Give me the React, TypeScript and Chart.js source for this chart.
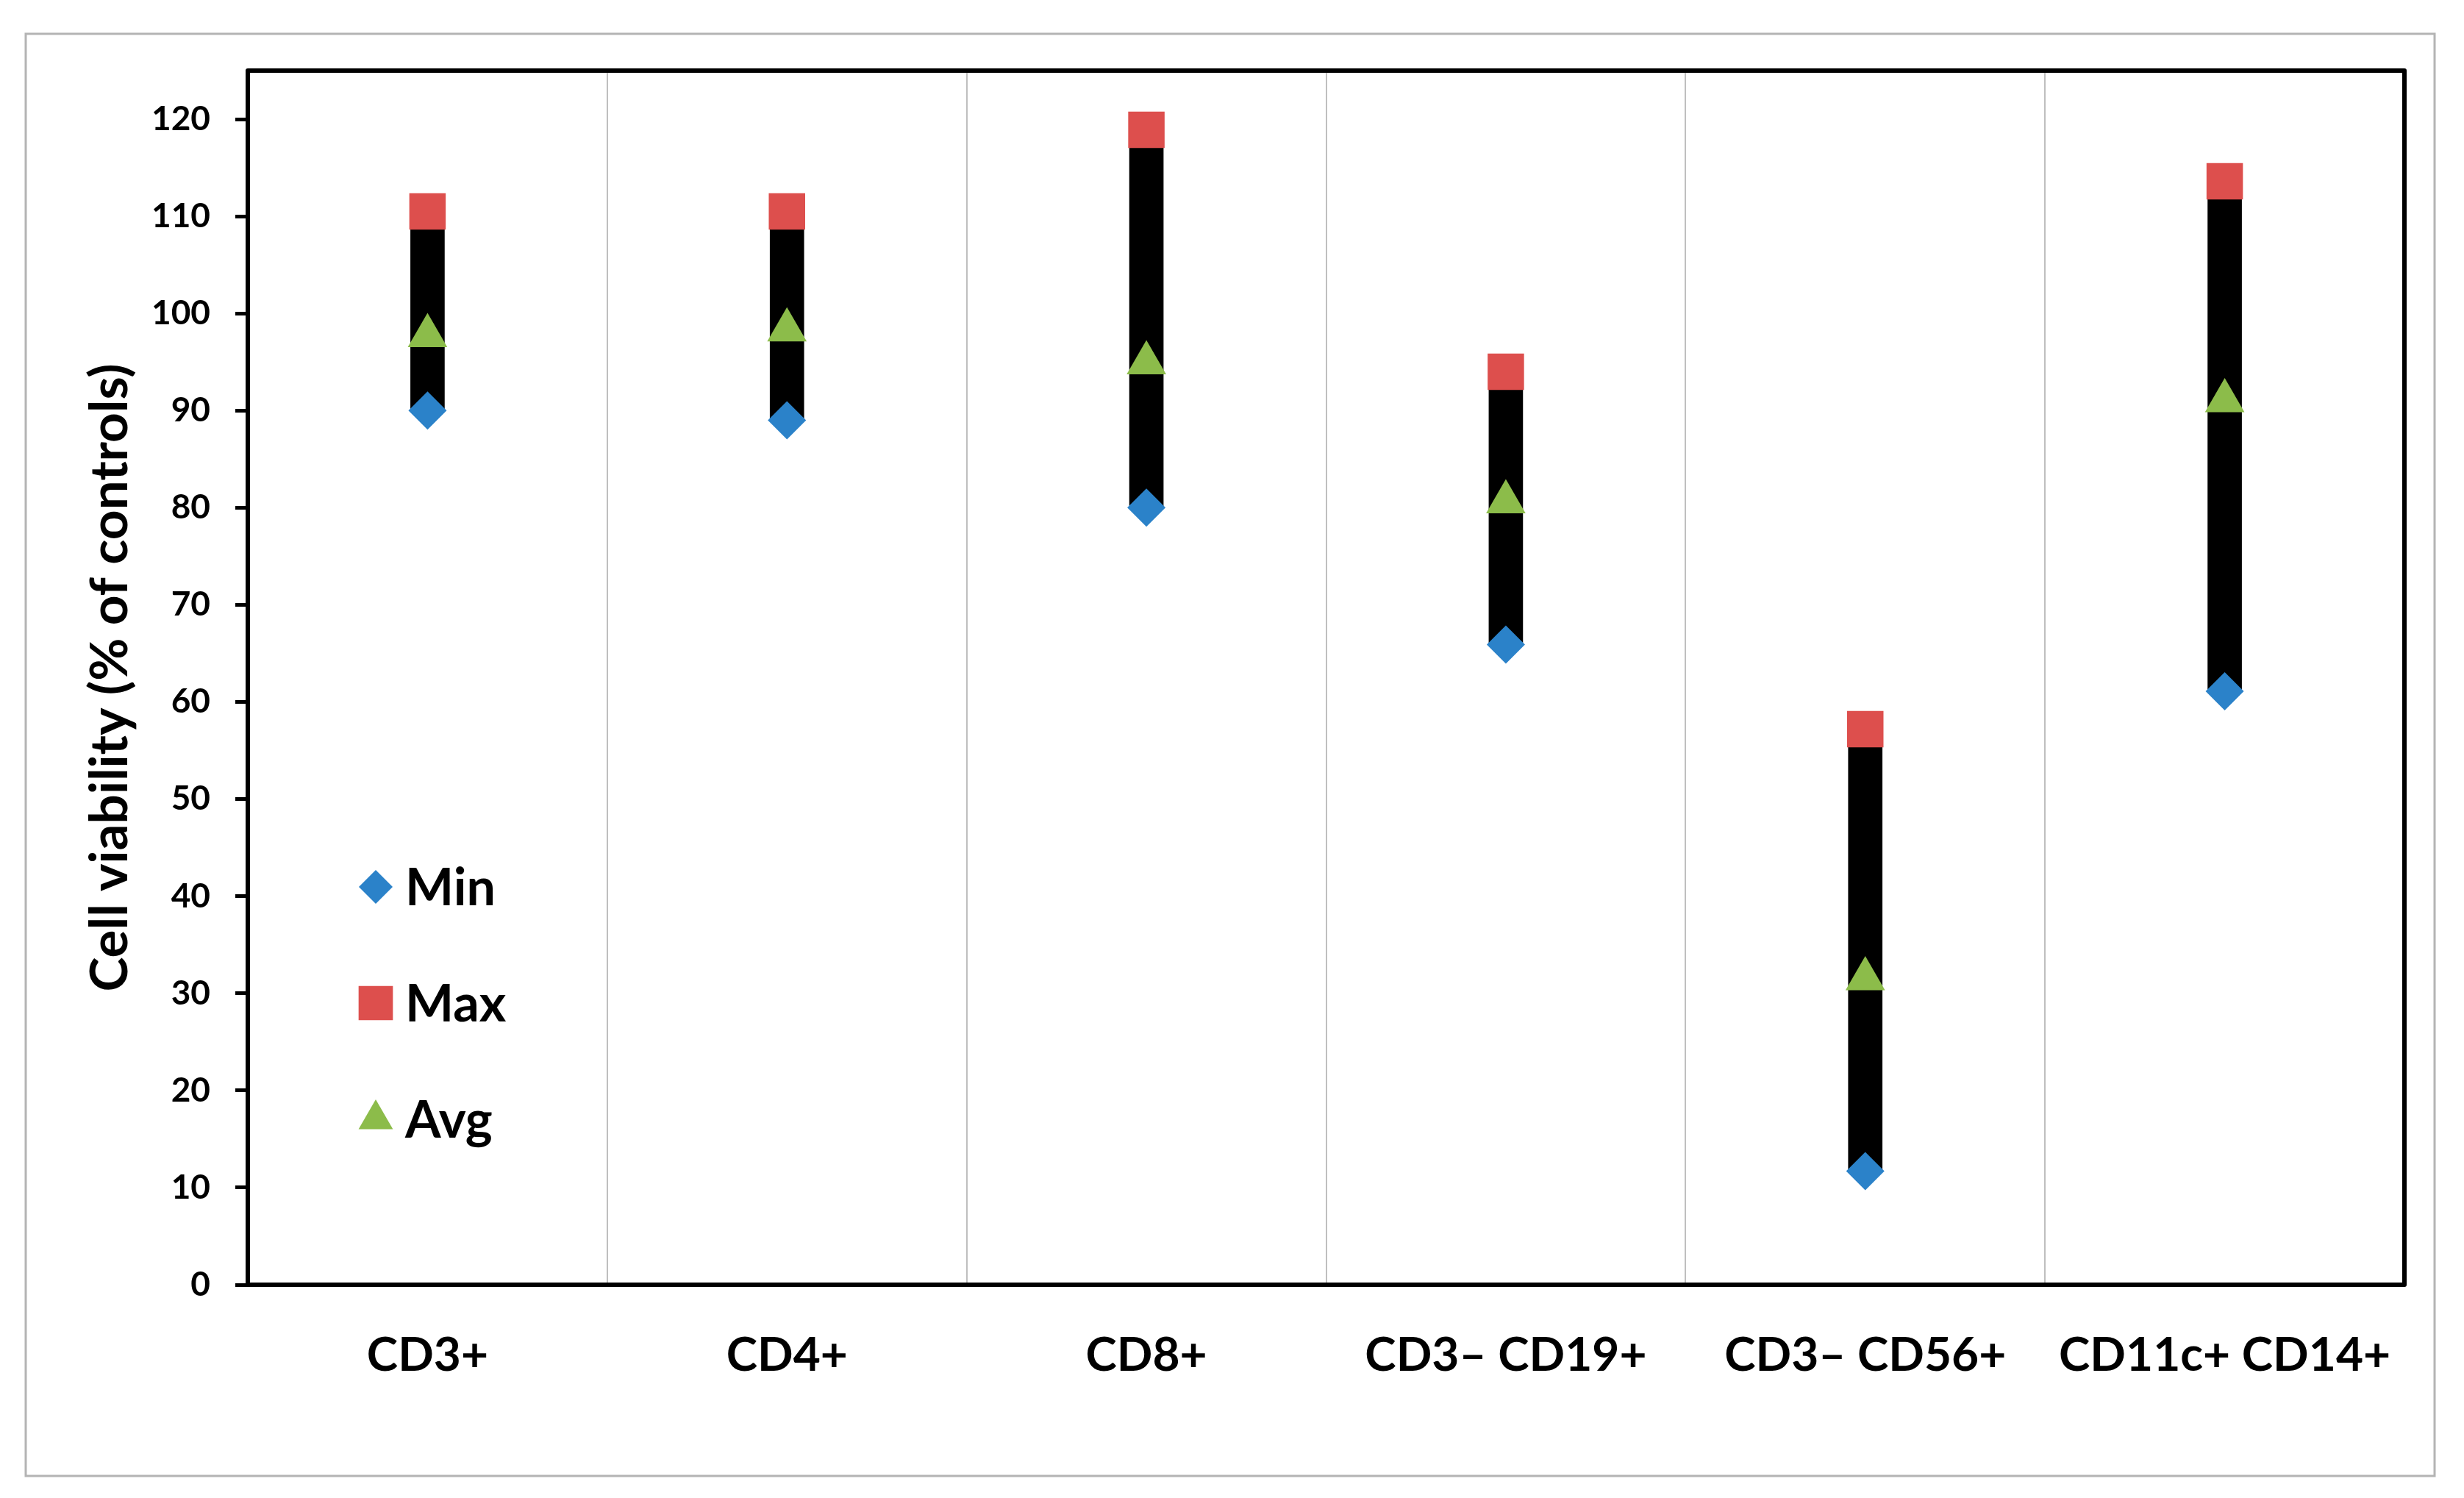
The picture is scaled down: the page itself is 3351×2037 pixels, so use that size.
import React, { useEffect, useRef } from 'react';
import { Chart, registerables } from 'chart.js';
import { drawPoint } from 'chart.js/helpers';

Chart.register(...registerables);

const categories = ['CD3+', 'CD4+', 'CD8+', 'CD3\u2013 CD19+', 'CD3\u2013 CD56+', 'CD11c+ CD14+'];
const minValues = [90, 89, 80, 65.9, 11.7, 61.1];
const maxValues = [110.5, 110.5, 118.9, 94, 57.2, 113.6];
const avgValues = [97.7, 98.3, 94.9, 80.6, 31.5, 91];
const seriesNames = ['Min', 'Max', 'Avg'];
const yAxisTitle = 'Cell viability (% of controls)';

const BLUE = '#2b82c9';
const RED = '#dd4f4d';
const GREEN = '#8cbc4a';
const FONT = 'Lato';

const legendSizes: Record<string, number> = { rectRot: 23, rect: 33, triangle: 27 };

const frameAndLegend = {
  id: 'frameAndLegend',
  beforeDraw(chart: any) {
    const { ctx, width, height } = chart;
    ctx.save();
    ctx.fillStyle = '#ffffff';
    ctx.fillRect(0, 0, width, height);
    ctx.strokeStyle = '#b4b4b4';
    ctx.lineWidth = 3;
    ctx.strokeRect(35, 46, 3276, 1961);
    ctx.restore();
  },
  afterDatasetsDraw(chart: any) {
    const { ctx, chartArea } = chart;
    ctx.save();
    ctx.strokeStyle = '#000000';
    ctx.lineWidth = 6;
    ctx.lineJoin = 'round';
    ctx.strokeRect(chartArea.left, chartArea.top, chartArea.right - chartArea.left, chartArea.bottom - chartArea.top);
    // legend inside the plot area
    const x0 = chartArea.left + 174;
    let y = chartArea.top + 1110;
    chart.data.datasets.forEach((ds: any) => {
      if (ds.type !== 'line') return;
      ctx.fillStyle = ds.backgroundColor;
      drawPoint(ctx, { pointStyle: ds.pointStyle, radius: legendSizes[ds.pointStyle], borderWidth: 0, rotation: 0 } as any, x0, y);
      ctx.fillStyle = '#000000';
      ctx.font = `bold 70px ${FONT}`;
      ctx.textAlign = 'left';
      ctx.textBaseline = 'middle';
      ctx.fillText(ds.label, x0 + 40, y + 2);
      y += 158;
    });
    ctx.restore();
  },
};

export default function App() {
  const canvasRef = useRef<HTMLCanvasElement | null>(null);

  useEffect(() => {
    document.body.style.margin = '0';
    const canvas = canvasRef.current;
    if (!canvas) return;
    Chart.defaults.font.family = FONT;
    const chart = new Chart(canvas, {
      type: 'bar',
      data: {
        labels: categories,
        datasets: [
          {
            type: 'bar',
            label: 'Range',
            data: categories.map((_, i) => [minValues[i], maxValues[i]]) as any,
            backgroundColor: '#000000',
            borderWidth: 0,
            barThickness: 46,
            order: 4,
          },
          {
            type: 'line',
            label: seriesNames[0],
            data: minValues,
            showLine: false,
            pointStyle: 'rectRot',
            pointRadius: 26,
            backgroundColor: BLUE,
            borderColor: BLUE,
            pointBorderWidth: 0,
            order: 3,
          } as any,
          {
            type: 'line',
            label: seriesNames[1],
            data: maxValues,
            showLine: false,
            pointStyle: 'rect',
            pointRadius: 35,
            backgroundColor: RED,
            borderColor: RED,
            pointBorderWidth: 0,
            order: 2,
          } as any,
          {
            type: 'line',
            label: seriesNames[2],
            data: avgValues,
            showLine: false,
            pointStyle: 'triangle',
            pointRadius: 31,
            backgroundColor: GREEN,
            borderColor: GREEN,
            pointBorderWidth: 0,
            order: 1,
          } as any,
        ],
      },
      options: {
        responsive: false,
        animation: false,
        devicePixelRatio: 1,
        layout: { padding: { top: 96, right: 81, left: 0, bottom: 0 } },
        plugins: {
          legend: { display: false },
          tooltip: { enabled: false },
        },
        scales: {
          x: {
            type: 'category',
            offset: true,
            grid: { display: true, offset: true, drawTicks: false, color: '#bfbfbf', lineWidth: 2 },
            border: { display: true, color: '#000000', width: 6 },
            ticks: {
              color: '#000000',
              font: { family: FONT, weight: 'bold', size: 64 },
              padding: 58,
              maxRotation: 0,
              autoSkip: false,
            },
            afterFit: (s: any) => {
              s.height = 290;
            },
          },
          y: {
            type: 'linear',
            min: 0,
            max: 125,
            ticks: {
              stepSize: 10,
              includeBounds: false,
              color: '#000000',
              font: { family: FONT, weight: 'bold', size: 46 },
              padding: 34,
            },
            grid: {
              drawOnChartArea: false,
              drawTicks: true,
              tickLength: 17,
              tickWidth: 5,
              tickColor: '#000000',
            },
            border: { display: true, color: '#000000', width: 5 },
            title: {
              display: true,
              text: yAxisTitle,
              color: '#000000',
              font: { family: FONT, weight: 'bold', size: 71 },
              padding: { top: 108, bottom: 0 },
            },
            afterFit: (s: any) => {
              s.width = 337;
            },
          },
        },
      },
      plugins: [frameAndLegend],
    });
    return () => chart.destroy();
  }, []);

  return (
    <div style={{ width: 3351, height: 2037, background: '#fff' }}>
      <canvas ref={canvasRef} width={3351} height={2037} style={{ display: 'block', width: 3351, height: 2037 }} />
    </div>
  );
}
